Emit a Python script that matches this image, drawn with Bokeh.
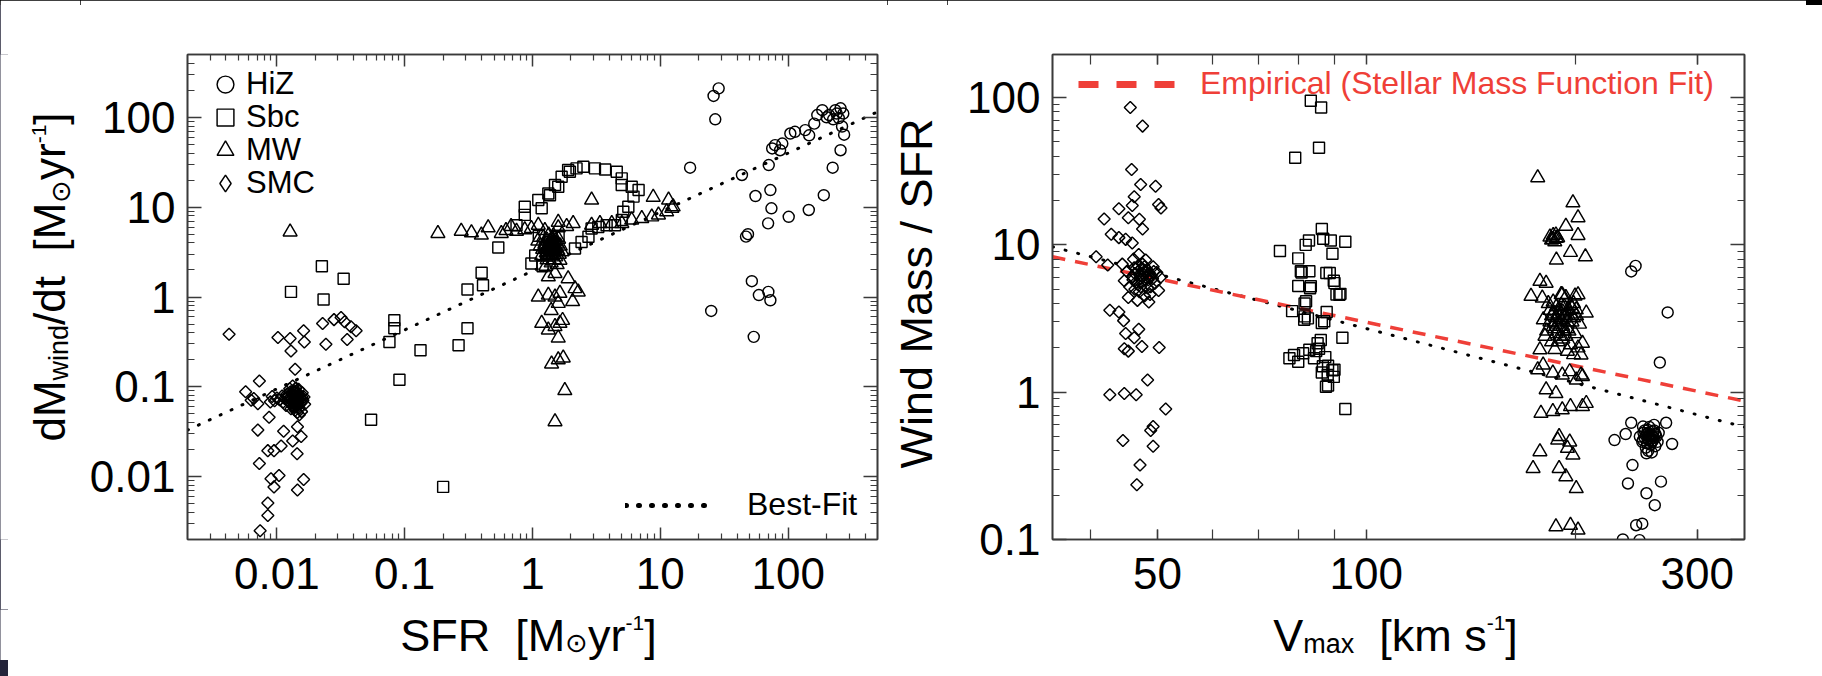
import numpy as np
from bokeh.plotting import figure
from bokeh.models import (Range1d, FixedTicker, NumeralTickFormatter, LogAxis,
                          Label, Legend, LegendItem)
from bokeh.layouts import row, column
from bokeh.embed import file_html
from bokeh.resources import INLINE

# ---------------- LEFT PANEL DATA: SFR vs dM_wind/dt ----------------
hiz_left = [(28.6, 210), (26.1, 173), (26.9, 95), (17.1, 27.5), (43.5, 22.8), (55.5, 13.3),
            (72.6, 15.5), (74.0, 9.7), (69.7, 6.6), (101, 7.8), (145, 9.3), (190, 13.6),
            (46.8, 4.7), (48.5, 5.0), (52.0, 1.5), (59.0, 1.05), (70.0, 1.14), (72.6, 0.92),
            (25.0, 0.70), (53.8, 0.36), (70.5, 29.4), (75.0, 45), (79.0, 49), (86.5, 43),
            (90.0, 51), (104, 66), (113, 69), (136, 72), (146, 63), (169, 106), (185, 120),
            (209, 106), (234, 120), (257, 126), (249, 98), (264, 79), (274, 64), (257, 43),
            (223, 27.5), (160, 85), (200, 100), (240, 110), (225, 95), (270, 110)]

sbc_left = [(0.0129, 1.14), (0.0225, 2.2), (0.0232, 0.94), (0.0333, 1.6), (0.083, 0.55),
            (0.083, 0.45), (0.076, 0.316), (0.133, 0.255), (0.264, 0.29), (0.31, 0.45),
            (0.091, 0.12), (0.0546, 0.043), (0.20, 0.0077), (0.31, 1.21), (0.41, 1.35),
            (0.40, 1.86), (0.54, 3.55), (0.75, 6.3), (0.87, 10.1), (0.87, 8.2), (1.11, 12),
            (1.37, 13.6), (1.59, 16.9), (1.90, 25.9), (0.98, 2.36), (1.33, 14.2), (1.50, 17.6),
            (1.69, 21.8), (1.96, 24.8), (2.21, 27), (2.50, 28.2), (3.08, 27), (3.70, 26.3),
            (4.56, 24.8), (4.99, 20.9), (4.99, 17.6), (5.97, 16.9), (6.76, 15.5), (6.17, 13.1),
            (5.62, 10.1), (5.13, 8.9), (5.00, 7.2), (4.42, 6.3), (3.80, 6.3), (3.27, 6.0),
            (2.90, 5.8), (2.74, 4.68), (2.42, 4.1), (2.15, 3.47), (1.18, 9.7), (1.25, 3.5),
            (1.35, 4.1), (1.42, 3.0), (1.50, 3.9), (1.30, 2.9), (1.05, 2.9), (1.20, 2.2),
            (1.12, 4.8), (1.60, 4.8)]

mw_left = [(0.0127, 5.3), (0.182, 5.1), (0.277, 5.4), (0.333, 5.2), (0.398, 4.9), (0.45, 5.9),
           (0.57, 5.1), (0.62, 5.5), (0.68, 6.1), (0.75, 5.4), (0.87, 5.6), (0.98, 5.8),
           (1.11, 6.3), (1.25, 5.5), (1.59, 6.8), (1.59, 5.9), (1.85, 6.1), (2.9, 12),
           (8.8, 12.9), (11.6, 12), (12.3, 9.7), (12.6, 10.1), (2.08, 6.6), (2.9, 6.3),
           (3.37, 6.6), (4.17, 6.6), (5.0, 6.6), (5.97, 7.2), (7.16, 7.5), (8.57, 7.8),
           (9.67, 8.2), (11.2, 8.9), (1.9, 1.6), (2.15, 1.24), (2.28, 1.14), (1.64, 2.57),
           (1.5, 1.83), (1.33, 1.68), (1.5, 1.0), (1.64, 1.1), (1.4, 0.71), (1.64, 0.51),
           (1.72, 0.55), (1.11, 1.0), (1.33, 1.05), (1.59, 0.85), (1.18, 0.51), (1.33, 0.43),
           (1.5, 0.47), (1.59, 0.35), (1.41, 0.18), (1.59, 0.2), (1.74, 0.21), (1.79, 0.091),
           (1.5, 0.041), (2.06, 0.89), (1.20, 3.4), (1.25, 3.9), (1.28, 3.1), (1.30, 4.3),
           (1.32, 3.6), (1.35, 2.9), (1.36, 4.0), (1.38, 3.3), (1.40, 3.8), (1.42, 4.5),
           (1.44, 3.1), (1.45, 3.6), (1.47, 4.1), (1.50, 3.4), (1.52, 2.8), (1.55, 3.9),
           (1.58, 3.3), (1.60, 4.4), (1.62, 3.0), (1.65, 3.7), (1.30, 2.6), (1.40, 2.4),
           (1.48, 2.6), (1.22, 4.6), (1.34, 4.9), (1.46, 4.8), (1.15, 3.7), (1.18, 2.9),
           (1.70, 3.2), (1.56, 2.3), (1.27, 2.2), (1.10, 4.2), (1.38, 3.55), (1.43, 3.35),
           (1.33, 3.75), (1.28, 3.5), (1.31, 3.2), (1.34, 3.7), (1.37, 3.4), (1.39, 4.1),
           (1.41, 3.6), (1.43, 3.2), (1.46, 3.9), (1.49, 3.5), (1.53, 3.6), (1.36, 3.8),
           (1.42, 3.9), (1.33, 3.0), (1.47, 3.3), (1.51, 4.2), (1.24, 3.6)]

smc_left = [(0.00423, 0.385), (0.0102, 0.355), (0.0127, 0.345), (0.0162, 0.42), (0.0164, 0.316),
            (0.0129, 0.25), (0.0139, 0.157), (0.0228, 0.507), (0.0242, 0.298), (0.028, 0.56),
            (0.0318, 0.59), (0.0339, 0.53), (0.038, 0.466), (0.0417, 0.42), (0.0355, 0.336),
            (0.0073, 0.116), (0.0057, 0.088), (0.0063, 0.071), (0.0071, 0.065), (0.0066, 0.074),
            (0.0087, 0.046), (0.0071, 0.033), (0.0113, 0.032), (0.0133, 0.025), (0.0145, 0.036),
            (0.0155, 0.028), (0.0085, 0.0195), (0.0095, 0.0195), (0.0108, 0.022), (0.0144, 0.018),
            (0.0073, 0.014), (0.009, 0.0095), (0.0095, 0.0077), (0.0104, 0.0103), (0.0162, 0.0093),
            (0.0145, 0.0071), (0.0085, 0.0051), (0.0085, 0.0037), (0.0074, 0.0025),
            (0.0118, 0.062), (0.0122, 0.071), (0.0125, 0.080), (0.0128, 0.066), (0.0130, 0.074),
            (0.0132, 0.085), (0.0134, 0.060), (0.0136, 0.070), (0.0138, 0.078), (0.0140, 0.064),
            (0.0142, 0.090), (0.0144, 0.072), (0.0146, 0.068), (0.0148, 0.081), (0.0150, 0.058),
            (0.0152, 0.075), (0.0155, 0.066), (0.0158, 0.086), (0.0160, 0.071), (0.0126, 0.095),
            (0.0133, 0.102), (0.0139, 0.055), (0.0145, 0.052), (0.0129, 0.057), (0.0120, 0.083),
            (0.0115, 0.074), (0.0112, 0.068), (0.0110, 0.079), (0.0165, 0.064), (0.0163, 0.077),
            (0.0135, 0.088), (0.0141, 0.097), (0.0148, 0.094), (0.0137, 0.065), (0.0131, 0.069),
            (0.0143, 0.061), (0.0150, 0.049), (0.0156, 0.053), (0.0105, 0.072), (0.0100, 0.075),
            (0.0096, 0.070), (0.0092, 0.078), (0.0089, 0.068), (0.0124, 0.068), (0.0127, 0.076),
            (0.0131, 0.063), (0.0134, 0.081), (0.0137, 0.072), (0.0140, 0.069), (0.0143, 0.079),
            (0.0146, 0.062), (0.0149, 0.073), (0.0153, 0.070), (0.0128, 0.088), (0.0136, 0.091),
            (0.0144, 0.085), (0.0121, 0.077), (0.0157, 0.077), (0.0139, 0.060)]

bestfit_sfr = [0.002, 500]
bestfit_wind = [0.033, 115]

# ---------------- RIGHT PANEL DATA: Vmax vs Wind Mass / SFR ----------------
hiz_right = [(241, 6.6), (244.5, 7.2), (272, 3.48), (265, 1.59), (241, 0.62), (236.6, 0.52),
             (228, 0.473), (270.6, 0.62), (276, 0.445), (250.6, 0.584), (254.7, 0.554), (259, 0.5),
             (253.5, 0.385), (250.6, 0.473), (242, 0.32), (238.4, 0.24), (253.5, 0.206), (266, 0.247),
             (260.6, 0.171), (245, 0.125), (250, 0.128), (234.4, 0.1), (247.7, 0.099),
             (248, 0.50), (250, 0.46), (252, 0.55), (253, 0.42), (254, 0.52), (255, 0.48),
             (256, 0.58), (257, 0.44), (258, 0.51), (259, 0.47), (260, 0.55), (261, 0.43),
             (262, 0.50), (263, 0.46), (255, 0.40), (258, 0.39), (251, 0.53), (260, 0.60),
             (264, 0.53), (256, 0.50), (252, 0.49), (254, 0.45), (255, 0.53), (257, 0.50),
             (258, 0.46), (259, 0.54), (260, 0.49), (256, 0.47), (253, 0.51), (261, 0.52)]

sbc_right = [(83.2, 95), (86.1, 85.5), (79.0, 39), (85.5, 45.7), (75.1, 9.1), (79.8, 8.1),
             (81.8, 10), (82.7, 10.7), (86.3, 12.8), (86.7, 11), (88.9, 10.7), (89.4, 8.7),
             (93.3, 10.5), (80.7, 6.5), (79.8, 5.25), (83.0, 5.07), (87.6, 6.45), (89.8, 5.7),
             (90.6, 4.6), (91.8, 4.65), (78.2, 3.55), (81.5, 4.0), (82.4, 3.17), (81.5, 3.27),
             (87.7, 3.5), (86.3, 2.95), (92.4, 2.34), (78.7, 1.79), (79.8, 1.61), (81.1, 1.84),
             (84.7, 1.9), (86.0, 2.26), (85.5, 1.97), (87.3, 1.73), (88.1, 1.51), (86.3, 1.36),
             (89.4, 1.41), (89.8, 1.27), (88.1, 1.11), (93.3, 0.77), (82.8, 6.62), (80.5, 6.62),
             (83.2, 5.24), (81.9, 4.14), (81.4, 3.1), (87.0, 3.03), (88.6, 6.45), (90.0, 5.5),
             (91.5, 4.59), (77.5, 1.7), (82.8, 1.94), (85.1, 2.15), (84.1, 1.7), (86.6, 1.5),
             (88.0, 1.31), (87.5, 1.09), (90.0, 1.42)]

mw_right = [(176.7, 28.6), (198.6, 19.3), (202, 15.3), (194, 13.4), (202, 11.6), (187.7, 11.7),
            (185.8, 10.9), (188.8, 11.2), (197, 8.9), (207, 8.3), (188, 7.9), (178, 5.66),
            (181.7, 5.5), (172.8, 4.48), (179.4, 4.36), (191.7, 4.59), (202, 4.59), (200.8, 3.63),
            (207.6, 3.45), (205, 2.15), (204, 1.79), (178, 1.94), (179.9, 1.53), (176.7, 1.42),
            (185.8, 1.35), (191.7, 1.31), (196.5, 1.38), (200.8, 1.21), (204, 1.31), (205, 1.28),
            (181.7, 1.04), (187.7, 0.98), (178.6, 0.72), (185.8, 0.74), (191.7, 0.76), (197, 0.8),
            (205, 0.8), (207.6, 0.84), (189.7, 0.5), (196.5, 0.46), (188.8, 0.474), (195, 0.416),
            (198.6, 0.375), (178, 0.395), (174, 0.304), (189.7, 0.304), (194, 0.267), (200.8, 0.222),
            (187.7, 0.122), (197, 0.125), (202, 0.116),
            (180, 3.1), (182, 2.6), (184, 3.6), (185, 2.2), (186, 4.1), (187, 3.0), (188, 2.5),
            (189, 3.4), (190, 2.8), (191, 3.9), (192, 2.3), (193, 3.2), (194, 4.4), (195, 2.7),
            (196, 3.6), (197, 2.1), (198, 3.0), (199, 4.0), (200, 2.5), (201, 3.3), (202, 2.0),
            (203, 2.9), (185, 3.3), (189, 2.2), (193, 2.6), (197, 3.9), (183, 4.0), (191, 4.6),
            (195, 1.9), (187, 1.95), (199, 1.8), (181, 2.4), (200, 4.5), (188, 3.8), (192, 3.5),
            (184, 11.3), (185, 10.8), (186, 11.6), (187, 10.5), (188, 11.1),
            (184, 3.0), (186, 3.4), (187, 2.7), (188, 3.2), (189, 2.9), (190, 3.6), (191, 3.1),
            (192, 2.8), (193, 3.8), (194, 3.3), (195, 3.0), (196, 2.6), (197, 3.4), (198, 3.7),
            (190, 2.4), (186, 2.8), (194, 2.4), (199, 3.2)]

smc_right = [(45.7, 85.5), (47.6, 64), (45.9, 32.5), (47.3, 25.7), (49.7, 25), (46.3, 21.2),
             (46.0, 18.5), (50.2, 18.8), (50.6, 17.8), (41.9, 15), (44.0, 17.6), (45.4, 15.3),
             (47.1, 14.9), (47.6, 12.8), (42.9, 11.8), (44.0, 11.2), (45.0, 10.9), (46.0, 10.3),
             (42.4, 7.3), (40.8, 8.3), (42.7, 3.6), (44.0, 3.5), (44.7, 3.06), (45.0, 2.5),
             (44.8, 1.97), (45.4, 1.9), (46.3, 2.34), (47.0, 2.67), (47.5, 2.04), (50.3, 2.01),
             (42.7, 0.96), (44.8, 0.98), (46.6, 0.96), (48.4, 1.21), (51.4, 0.77), (44.6, 0.47),
             (49.3, 0.43), (47.2, 0.32), (46.7, 0.235), (49.3, 0.585), (48.9, 0.55),
             (45.6, 5.2), (46.0, 6.1), (46.3, 7.0), (46.6, 5.6), (46.9, 6.6), (47.1, 4.8),
             (47.3, 5.9), (47.6, 7.4), (47.8, 6.3), (48.0, 5.3), (48.3, 6.8), (48.5, 5.8),
             (48.8, 4.6), (49.0, 6.2), (49.3, 7.1), (49.6, 5.5), (49.9, 6.5), (46.2, 8.0),
             (47.0, 8.6), (48.1, 7.9), (45.2, 6.6), (44.8, 5.7), (45.4, 4.4), (46.8, 4.2),
             (48.6, 4.1), (50.2, 4.9), (50.5, 6.0), (44.5, 7.4), (47.4, 6.9), (46.4, 5.0),
             (48.9, 5.2), (47.9, 4.5), (46.4, 6.4), (46.8, 5.4), (47.2, 6.2), (47.5, 5.6),
             (47.7, 6.8), (48.2, 6.0), (48.4, 5.1), (48.7, 6.4), (46.9, 7.2), (47.9, 7.1),
             (46.1, 5.8), (49.2, 5.9), (47.3, 5.2), (48.0, 6.5), (46.6, 6.9), (49.4, 6.6)]

fit_vmax = [35.3, 351]
fit_ratio = [9.7, 0.58]
empirical_ratio = [8.3, 0.87]

left_x_ticks = [0.01, 0.1, 1, 10, 100]
left_y_ticks = [0.01, 0.1, 1, 10, 100]
right_x_ticks = [50, 100, 300]
right_y_ticks = [0.1, 1, 10, 100]
legend_labels = ["HiZ", "Sbc", "MW", "SMC"]

# ---------------------------------------------------------------------
FONT = "Liberation Sans"
SYM = "DejaVu Sans"
RED = "#ef3f38"
AX = "#3a3a3a"
ROW_H = 609        # frames from page y 62 to 547
XT_H = 51
MB_TOP, MB_BOT = 54, 70
MID = 0.30         # baseline lies this fraction of the font size below a "middle" anchor


def unzip(pts):
    return [a for a, b in pts], [b for a, b in pts]


def minor_list(lo, hi):
    out = []
    for e in range(-4, 4):
        for m in range(2, 10):
            v = m * 10.0 ** e
            if lo < v < hi:
                out.append(v)
    return out


def no_align(f):
    try:
        f.frame_align = False
    except Exception:
        pass


def make_fig(width, xr, yr, mbl, mbr):
    p = figure(width=width, height=ROW_H, x_axis_type="log", y_axis_type="log",
               x_range=Range1d(*xr), y_range=Range1d(*yr),
               toolbar_location=None, output_backend="svg",
               min_border_left=mbl, min_border_right=mbr,
               min_border_top=MB_TOP, min_border_bottom=MB_BOT)
    p.grid.visible = False
    p.background_fill_color = "white"
    p.border_fill_color = "white"
    p.outline_line_color = AX
    p.outline_line_width = 1.6
    no_align(p)
    return p


def text_fig(width, height, top=0, bottom=0):
    f = figure(width=width, height=height, x_range=Range1d(0, 1), y_range=Range1d(0, 1),
               toolbar_location=None, output_backend="svg",
               x_axis_location=None, y_axis_location=None, min_border=0,
               min_border_top=top, min_border_bottom=bottom,
               min_border_left=0, min_border_right=0)
    f.grid.visible = False
    f.outline_line_color = None
    f.background_fill_color = "white"
    f.border_fill_color = "white"
    no_align(f)
    return f


def style_axis(ax, ticker, tick_in, minor_in, labels, standoff):
    ax.ticker = ticker
    ax.formatter = NumeralTickFormatter(format="0.[00]")
    ax.major_tick_in = tick_in
    ax.major_tick_out = 0
    ax.minor_tick_in = minor_in
    ax.minor_tick_out = 0
    ax.axis_line_color = AX
    ax.axis_line_width = 1.6
    ax.major_tick_line_color = AX
    ax.minor_tick_line_color = AX
    ax.major_tick_line_width = 1.5
    ax.minor_tick_line_width = 1.2
    ax.major_label_text_font = FONT
    if labels:
        ax.major_label_text_font_size = "44px"
        ax.major_label_text_color = "black"
        ax.major_label_standoff = standoff
    else:
        ax.major_label_text_font_size = "1px"
        ax.major_label_text_color = None
        ax.major_label_standoff = 0


def setup_axes(p, xticker, yticker, xin, xmin_in, yin, ymin_in):
    style_axis(p.xaxis[0], xticker, xin, xmin_in, True, 18)
    style_axis(p.yaxis[0], yticker, yin, ymin_in, True, 12)
    top = LogAxis()
    style_axis(top, xticker, xin, xmin_in, False, 0)
    p.add_layout(top, "above")
    right = LogAxis()
    style_axis(right, yticker, yin, ymin_in, False, 0)
    p.add_layout(right, "right")


HELV = {' ': 0.278, '\u00a0': 0.278, '[': 0.278, ']': 0.278, '/': 0.278, '-': 0.333, '1': 0.556,
        'd': 0.556, 'M': 0.833, 'w': 0.722, 'i': 0.222, 'n': 0.556, 't': 0.278, 'y': 0.5,
        'r': 0.333, 'S': 0.667, 'F': 0.611, 'R': 0.722, 'V': 0.667, 'm': 0.833, 'a': 0.556,
        'x': 0.5, 'k': 0.5, 's': 0.5, '\u2299': 0.838}


def tw(s, size):
    return sum(HELV.get(c, 0.556) for c in s) * size


def rich_label(p, pieces, cx, cy, vertical):
    """cx/cy: main baseline (across the text) and centre (along it), frame-relative px."""
    total = sum(tw(t, sz) for t, _, sz, _ in pieces)
    pos = (cy if vertical else cx) - total / 2
    for text, font, size, shift in pieces:
        if vertical:
            x, y, ang = cx + shift - MID * size, pos, np.pi / 2
        else:
            x, y, ang = pos, cy - shift + MID * size, 0
        p.add_layout(Label(x=x, y=y, x_units="screen", y_units="screen", text=text,
                           angle=ang, text_font=font, text_font_size=f"{size:.1f}px",
                           text_color="black", text_align="left",
                           text_baseline="middle"))
        pos += tw(text, size)


def single_legend(p, renderer, label, loc, gw, gh, standoff, size, color="black"):
    lg = Legend(items=[LegendItem(label=label, renderers=[renderer])], location=loc,
                glyph_width=gw, glyph_height=gh, label_standoff=standoff,
                padding=0, margin=0, spacing=0, border_line_color=None,
                background_fill_color=None, label_text_font=FONT,
                label_text_font_size=size, label_text_color=color)
    p.add_layout(lg)


MK = dict(fill_color=None, line_color="black", line_width=1.45)


def scatter_groups(p, hiz, sbc, mw, smc):
    x, y = unzip(hiz)
    r1 = p.scatter(x, y, marker="circle", size=11, **MK)
    x, y = unzip(sbc)
    r2 = p.scatter(x, y, marker="square", size=11, **MK)
    x, y = unzip(mw)
    r3 = p.scatter(x, y, marker="triangle", size=14, **MK)
    x, y = unzip(smc)
    p.scatter(x, y, marker="square", angle=np.pi / 4, size=8.5, **MK)
    # legend-only sample for the diamond symbol
    r5 = p.scatter(x, y, marker="diamond", size=10, visible=False, **MK)
    return [r1, r2, r3, r5]


# ---------------- LEFT FIGURE ----------------
p1 = make_fig(807, (0.002, 500), (0.002, 500), 107, 10)
setup_axes(p1,
           FixedTicker(ticks=left_x_ticks, minor_ticks=minor_list(0.002, 500)),
           FixedTicker(ticks=left_y_ticks, minor_ticks=minor_list(0.002, 500)),
           12, 6, 14, 7)
p1.line(bestfit_sfr, bestfit_wind, line_color="black", line_width=3,
        line_dash="1 11", line_cap="round")
fit_leg1 = p1.line(bestfit_sfr, bestfit_wind, line_color="black", line_width=5,
                   line_dash="1 12", line_cap="round", visible=False)
rs = scatter_groups(p1, hiz_left, sbc_left, mw_left, smc_left)
for i, (r, lab) in enumerate(zip(rs, legend_labels)):
    center = 91.7 + 33 * i
    single_legend(p1, r, lab, (17, 526 - center), 42, 42, 0, "31px")
single_legend(p1, fit_leg1, "Best-Fit", (438, 16), 90, 20, 32, "32px")

# ---------------- RIGHT FIGURE ----------------
p2 = make_fig(859, (35.3, 351), (0.1, 196), 105, 62)
setup_axes(p2,
           FixedTicker(ticks=right_x_ticks, minor_ticks=minor_list(35.3, 351)),
           FixedTicker(ticks=right_y_ticks, minor_ticks=minor_list(0.1, 196)),
           10, 10, 14, 7)
p2.line(fit_vmax, fit_ratio, line_color="black", line_width=3,
        line_dash="1 12", line_cap="round")
p2.line(fit_vmax, empirical_ratio, line_color=RED, line_width=3.5, line_dash="13 10")
emp_leg = p2.line(fit_vmax, empirical_ratio, line_color=RED, line_width=7,
                  line_dash="20 18", visible=False)
scatter_groups(p2, hiz_right, sbc_right, mw_right, smc_right)
single_legend(p2, emp_leg, "Empirical (Stellar Mass Function Fit)", (26, 437), 97, 20, 25,
              "32px", RED)

# ---------------- AXIS TITLES (separate text panels) ----------------
# y-title panels share the frame rows of the plots (page y 62..547)
yt1 = text_fig(80, ROW_H, MB_TOP, MB_BOT)
rich_label(yt1, [("dM", FONT, 44, 0), ("wind", FONT, 27, 5), ("/dt\u00a0\u00a0[M", FONT, 44, 0),
                 ("\u2299", SYM, 27, 6), ("yr", FONT, 44, 0), ("-1", FONT, 21, -17),
                 ("]", FONT, 44, 0)], 62, 262.5, True)

yt2 = text_fig(60, ROW_H, MB_TOP, MB_BOT)
yt2.add_layout(Label(x=42 - MID * 45, y=246, x_units="screen", y_units="screen",
                     text="Wind Mass / SFR", angle=np.pi / 2, text_font=FONT,
                     text_font_size="45px", text_color="black", text_align="center",
                     text_baseline="middle"))

xt = text_fig(1806, XT_H)
rich_label(xt, [("SFR\u00a0\u00a0[M", FONT, 45, 0), ("\u2299", SYM, 27, 2), ("yr", FONT, 45, 0),
                ("-1", FONT, 21, -19), ("]", FONT, 45, 0)], 528, 12, False)
rich_label(xt, [("V", FONT, 45, 0), ("max", FONT, 27, 4), ("\u00a0\u00a0[km s", FONT, 45, 0),
                ("-1", FONT, 21, -19), ("]", FONT, 45, 0)], 1395, 12, False)

layout = column(row(yt1, p1, yt2, p2), xt)

html = file_html(layout, INLINE)
css = ("<style>body{background:linear-gradient(#000,#000) top left/100% 5px no-repeat,"
       "linear-gradient(to right,#24243a 8px,#ffffff 8px);}</style>")
html = html.replace("</head>", css + "</head>", 1)
open("out.html", "w").write(html)
